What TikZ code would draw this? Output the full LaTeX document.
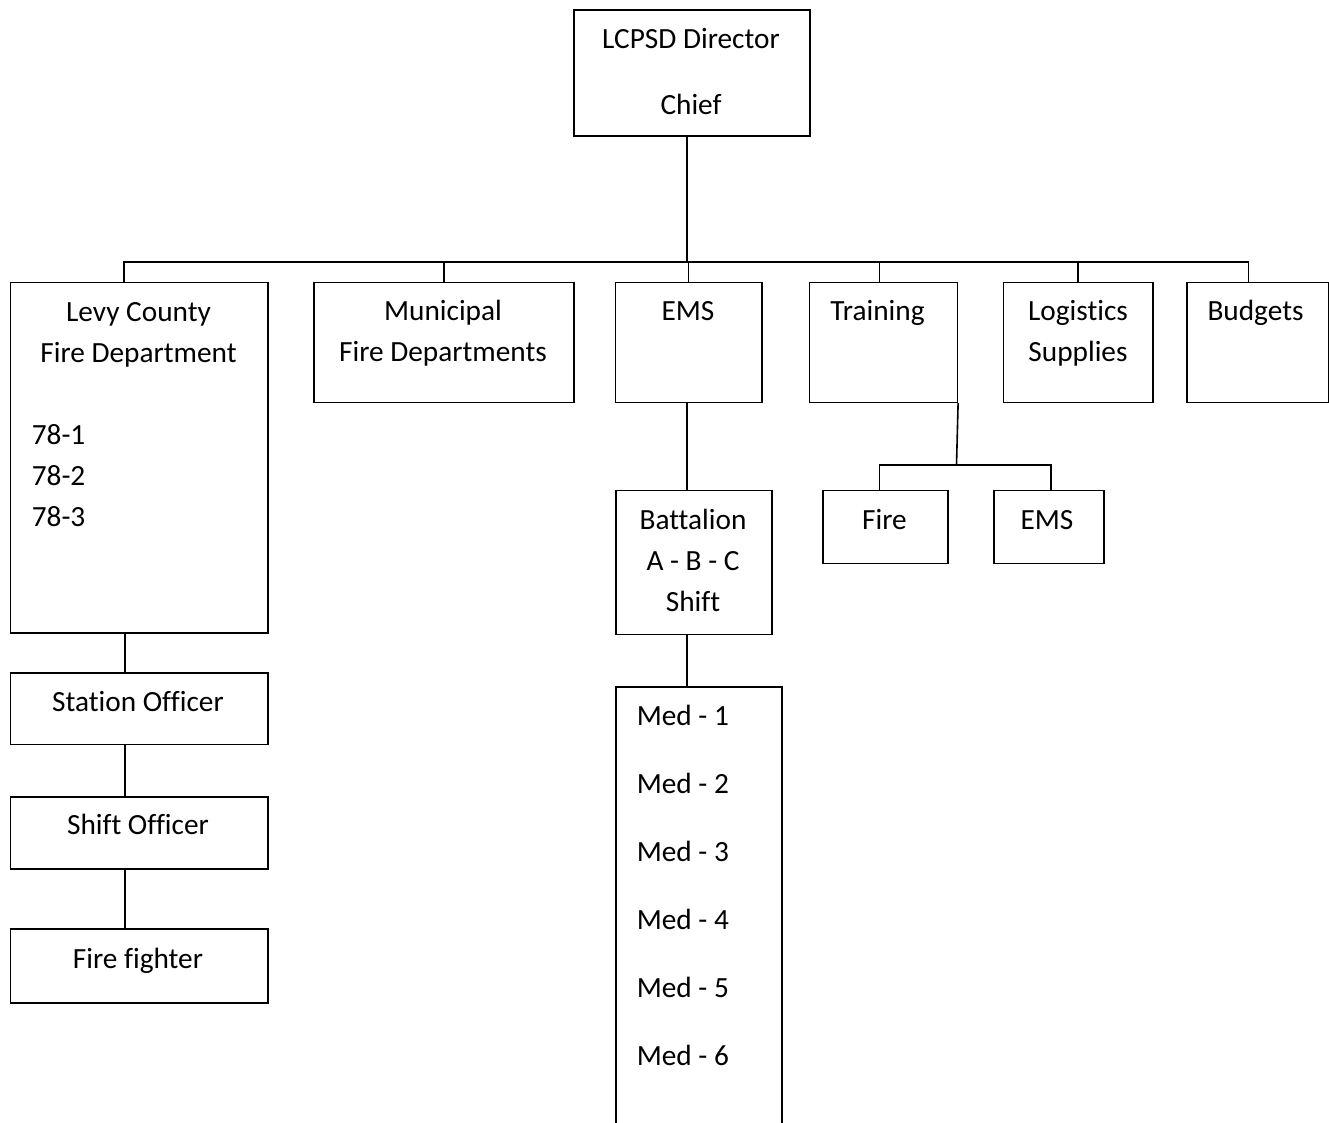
\documentclass[tikz,border=0pt]{standalone}
\usepackage{fontspec}
\setmainfont{Carlito}[Ligatures={TeX,NoCommon}]
\usepackage{tikz}
\usetikzlibrary{calc}

\begin{document}
\begin{tikzpicture}[x=1pt,y=-1pt,line width=1.6pt,font=\fontsize{29.3}{41}\selectfont]
  \tikzstyle{box}=[draw,rectangle,inner sep=0,anchor=north west]
  \tikzstyle{txt}=[inner sep=0,align=center,anchor=base]
  \tikzstyle{lst}=[inner sep=0,align=left,anchor=base west]
  \useasboundingbox (0,0) rectangle (1329,1123);
  % boxes
  \node(dir)[box,minimum width=236,minimum height=126] at (573,9){};
  \node(levy)[box,minimum width=257.5,minimum height=350.5] at (9.5,281.5){};
  \node(muni)[box,minimum width=260,minimum height=120] at (313,281.5){};
  \node(ems)[box,minimum width=146.5,minimum height=120] at (614.5,281.5){};
  \node(train)[box,minimum width=148,minimum height=120] at (808.5,281.5){};
  \node(logi)[box,minimum width=149.5,minimum height=120] at (1002.5,281.5){};
  \node(budg)[box,minimum width=141.5,minimum height=120] at (1186,281.5){};
  \node(bat)[box,minimum width=156,minimum height=144] at (615,489.5){};
  \node(fire)[box,minimum width=125,minimum height=73] at (822,489.5){};
  \node(emst)[box,minimum width=110,minimum height=73] at (993,489.5){};
  \node(stat)[box,minimum width=257.5,minimum height=71.5] at (9.5,672){};
  \node(shift)[box,minimum width=257.5,minimum height=72] at (9.5,796){};
  \node(ffight)[box,minimum width=257.5,minimum height=74] at (9.5,928){};
  \node(med)[box,minimum width=166,minimum height=500] at (615,686){};
  % texts (base = last line)
  \node(tdir)[txt] at (691,115){LCPSD Director\\[25pt]Chief};
  \node(tlevy)[txt] at (138.5,362){Levy County\\Fire Department};
  \node(tlevyst)[lst] at (31,526.5){78-1\\78-2\\78-3};
  \node(tmuni)[txt] at (443,361){Municipal\\Fire Departments};
  \node(tems)[txt] at (688,320){EMS};
  \node(ttrain)[txt] at (877.5,320){Training};
  \node(tlogi)[txt] at (1078,361){Logistics\\Supplies};
  \node(tbudg)[txt] at (1255.5,320){Budgets};
  \node(tbat)[txt] at (693,611){Battalion\\A - B - C\\Shift};
  \node(tfire)[txt] at (884.5,529){Fire};
  \node(temst)[txt] at (1047,529){EMS};
  \node(tstat)[txt] at (138,711){Station Officer};
  \node(tshift)[txt] at (138,834){Shift Officer};
  \node(tff)[txt] at (138,968){Fire fighter};
  \node(tmed)[lst,font=\fontsize{29.3}{68}\selectfont] at (636,1065){Med - 1\\Med - 2\\Med - 3\\Med - 4\\Med - 5\\Med - 6};
  % connectors
  \coordinate(bus) at (687,262);
  \coordinate(tbus) at (956.5,465);
  \draw (dir.south -| bus) -- (bus);
  \draw ([xshift=-15pt]levy.north) |- (bus) -| ([xshift=-9pt]budg.north);
  \foreach \b in {muni,ems,logi}
    \draw (\b.north) -- (\b.north |- bus);
  \draw ([xshift=-4pt]train.north) -- ([xshift=-4pt]train.north |- bus);
  \draw (ems.south -| bus) -- (bat.north -| bus);
  \draw (bat.south -| bus) -- (med.north -| bus);
  \foreach \a/\b in {levy/stat,stat/shift,shift/ffight}
    \draw ([xshift=-14pt]\a.south) -- ([xshift=-14pt]\b.north);
  \draw (train.south east) -- (tbus);
  \draw ([xshift=-6pt]fire.north) |- ([xshift=2pt]emst.north |- tbus) -- ([xshift=2pt]emst.north);
\end{tikzpicture}
\end{document}
